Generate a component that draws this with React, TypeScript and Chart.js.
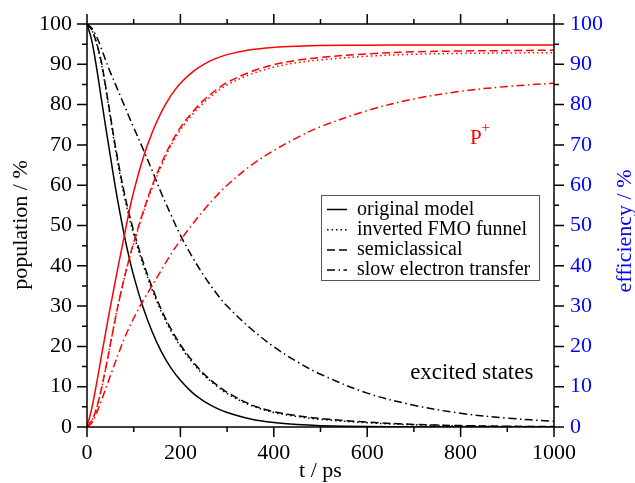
import React, { useEffect, useRef } from 'react';
import { Chart, registerables } from 'chart.js';

Chart.register(...registerables);

// time grid (ps)
const times = [0, 10, 20, 30, 40, 50, 60, 70, 80, 90, 100, 120, 140, 160, 180, 200, 225, 250, 275, 300, 350, 400, 450, 500, 600, 700, 800, 900, 1000];

// excited-state populations (%)
const excOriginal = [100, 96, 89.5, 82, 74.5, 67.2, 60, 53.5, 47.5, 42.2, 37.5, 29.7, 23.5, 18.5, 14.6, 11.6, 8.6, 6.4, 4.8, 3.6, 2.0, 1.1, 0.6, 0.34, 0.1, 0.03, 0, 0, 0];
const excInverted = [100, 98.6, 95.3, 90.5, 84, 76.7, 69.5, 63, 57.2, 52.2, 47.8, 40.3, 33.9, 28.4, 23.8, 20, 16.1, 12.9, 10.4, 8.3, 5.4, 3.6, 2.6, 1.9, 1.05, 0.55, 0.28, 0.14, 0.07];
const excSemiclassical = [100, 98.6, 95.5, 91, 84.5, 77.3, 70.2, 63.8, 58, 53, 48.6, 41, 34.5, 28.9, 24.3, 20.4, 16.5, 13.2, 10.7, 8.6, 5.6, 3.8, 2.8, 2.1, 1.2, 0.65, 0.35, 0.18, 0.1];
const excSlowET = [100, 99, 97, 94.2, 91, 88, 85.3, 82.5, 79.8, 77, 74.3, 69, 63.5, 57.8, 52.6, 47.6, 42.3, 37.6, 33.5, 30, 24.5, 19.9, 16.2, 13.1, 8.4, 5.4, 3.4, 2.2, 1.4];

// P+ populations (%)
const pOriginal = [0, 4.5, 10.5, 17, 23.5, 29.8, 35.8, 41.8, 47.5, 53.3, 58.4, 66.7, 73.2, 78.3, 82.3, 85.3, 88, 90, 91.4, 92.4, 93.6, 94.2, 94.5, 94.65, 94.75, 94.8, 94.8, 94.8, 94.8];
const pInverted = [0, 1.5, 4.5, 9, 14.5, 20.5, 26.5, 32, 37, 41.5, 45.5, 53, 59.5, 65, 69.9, 73.7, 77.4, 80.5, 82.9, 84.9, 87.5, 89.3, 90.4, 91.1, 92, 92.5, 92.7, 92.8, 92.9];
const pSemiclassical = [0, 1.5, 4.5, 9, 14.5, 20.5, 26.5, 32, 37, 41.6, 45.8, 53.3, 60, 65.6, 70.4, 74.3, 78, 81.1, 83.5, 85.5, 88.1, 89.9, 91, 91.7, 92.6, 93.1, 93.3, 93.4, 93.5];
const pSlowET = [0, 1, 3.3, 6.3, 9.5, 12.7, 15.9, 19, 22, 24.6, 27, 31.3, 35.2, 39.1, 42.9, 46.3, 50.2, 53.8, 57.1, 60, 64.8, 68.6, 71.8, 74.5, 78.5, 81.4, 83.3, 84.5, 85.3];

// axes ticks
const xMajor = [0, 200, 400, 600, 800, 1000];
const xMinor = [100, 300, 500, 700, 900];
const yMajor = [0, 10, 20, 30, 40, 50, 60, 70, 80, 90, 100];
const yMinor = [5, 15, 25, 35, 45, 55, 65, 75, 85, 95];

const legendLabels = ['original model', 'inverted FMO funnel', 'semiclassical', 'slow electron transfer'];

const SERIF = "'Liberation Serif', 'Times New Roman', serif";
const dashes: number[][] = [[], [1.5, 3], [8, 4], [8, 3.5, 1.5, 3.5]];

function toXY(vals: number[]) {
  return times.map((t, i) => ({ x: t, y: vals[i] }));
}

const decorPlugin = {
  id: 'decor',
  afterDraw(chart: any) {
    const { ctx, chartArea: a, scales } = chart;
    const sx = scales.x, sy = scales.y, sy2 = scales.y2;
    ctx.save();
    ctx.strokeStyle = '#000';
    ctx.lineWidth = 1.5;
    ctx.setLineDash([]);
    ctx.beginPath();
    const xt = (v: number, L: number) => {
      const p = sx.getPixelForValue(v);
      ctx.moveTo(p, a.bottom); ctx.lineTo(p, a.bottom + L);
      ctx.moveTo(p, a.top); ctx.lineTo(p, a.top - L);
    };
    xMajor.forEach((v) => xt(v, 10));
    xMinor.forEach((v) => xt(v, 5));
    const yt = (v: number, L: number) => {
      const p = sy.getPixelForValue(v);
      ctx.moveTo(a.left, p); ctx.lineTo(a.left - L, p);
      const q = sy2.getPixelForValue(v);
      ctx.moveTo(a.right, q); ctx.lineTo(a.right + L, q);
    };
    yMajor.forEach((v) => yt(v, 10));
    yMinor.forEach((v) => yt(v, 5));
    ctx.stroke();
    ctx.strokeRect(a.left, a.top, a.right - a.left, a.bottom - a.top);

    // axis titles
    ctx.fillStyle = '#000';
    ctx.font = `22px ${SERIF}`;
    ctx.textAlign = 'center';
    ctx.textBaseline = 'alphabetic';
    ctx.fillText('t / ps', (a.left + a.right) / 2, 477);
    ctx.save();
    ctx.translate(27, 225);
    ctx.rotate(-Math.PI / 2);
    ctx.fillText('population / %', 0, 0);
    ctx.restore();
    ctx.save();
    ctx.fillStyle = '#0000ff';
    ctx.translate(631, 231);
    ctx.rotate(-Math.PI / 2);
    ctx.fillText('efficiency / %', 0, 0);
    ctx.restore();

    // annotations
    ctx.textAlign = 'left';
    ctx.fillStyle = '#000';
    ctx.font = `23px ${SERIF}`;
    ctx.fillText('excited states', sx.getPixelForValue(692), sy.getPixelForValue(12));
    ctx.fillStyle = '#ff0000';
    ctx.font = `21px ${SERIF}`;
    const px = sx.getPixelForValue(820), py = sy.getPixelForValue(70.2);
    ctx.fillText('P', px, py);
    ctx.font = `15px ${SERIF}`;
    ctx.fillText('+', px + 11.5, py - 12);

    // legend
    const bx = 321.5, by = 195.5, bw = 218, bh = 85;
    ctx.strokeStyle = '#555';
    ctx.lineWidth = 1;
    ctx.strokeRect(bx, by, bw, bh);
    ctx.font = `20px ${SERIF}`;
    ctx.fillStyle = '#000';
    ctx.strokeStyle = '#000';
    ctx.lineWidth = 1.5;
    legendLabels.forEach((lab, i) => {
      const cy = 209.5 + i * 20.2;
      ctx.setLineDash(dashes[i]);
      ctx.beginPath();
      ctx.moveTo(327, cy);
      ctx.lineTo(347, cy);
      ctx.stroke();
      ctx.setLineDash([]);
      ctx.fillText(lab, 357, cy + 5);
    });
    ctx.restore();
  },
};

export default function App() {
  const ref = useRef<HTMLCanvasElement>(null);
  useEffect(() => {
    if (!ref.current) return;
    const font = { family: SERIF, size: 22 };
    const mk = (label: string, vals: number[], color: string, dash: number[]) => ({
      label,
      data: toXY(vals),
      borderColor: color,
      backgroundColor: color,
      borderWidth: 1.5,
      borderDash: dash,
      borderCapStyle: 'butt' as const,
      pointRadius: 0,
      fill: false,
      tension: 0.35,
      xAxisID: 'x',
      yAxisID: 'y',
    });
    const plain = (v: any) => String(v);
    const chart = new Chart(ref.current, {
      type: 'line',
      data: {
        datasets: [
          mk('P+ slow electron transfer', pSlowET, '#ff0000', dashes[3]),
          mk('P+ semiclassical', pSemiclassical, '#ff0000', dashes[2]),
          mk('P+ inverted FMO funnel', pInverted, '#ff0000', dashes[1]),
          mk('P+ original model', pOriginal, '#ff0000', dashes[0]),
          mk('slow electron transfer', excSlowET, '#000000', dashes[3]),
          mk('semiclassical', excSemiclassical, '#000000', dashes[2]),
          mk('inverted FMO funnel', excInverted, '#000000', dashes[1]),
          mk('original model', excOriginal, '#000000', dashes[0]),
        ],
      },
      options: {
        animation: false,
        responsive: false,
        maintainAspectRatio: false,
        layout: { padding: { top: 24, left: 0, right: 0, bottom: 0 } },
        plugins: { legend: { display: false }, tooltip: { enabled: false } },
        scales: {
          x: {
            type: 'linear',
            position: 'bottom',
            min: 0,
            max: 1000,
            afterBuildTicks: (s: any) => { s.ticks = xMajor.map((v) => ({ value: v })); },
            ticks: { font, color: '#000', padding: 3, maxRotation: 0, autoSkip: false, callback: plain },
            grid: { drawOnChartArea: false, drawTicks: true, tickLength: 10, color: 'rgba(0,0,0,0)' },
            border: { display: false },
            afterFit: (s: any) => { s.height = 56; },
          },
          y: {
            type: 'linear',
            position: 'left',
            min: 0,
            max: 100,
            afterBuildTicks: (s: any) => { s.ticks = yMajor.map((v) => ({ value: v })); },
            ticks: { font, color: '#000', padding: 5, autoSkip: false, callback: plain },
            grid: { drawOnChartArea: false, drawTicks: true, tickLength: 10, color: 'rgba(0,0,0,0)' },
            border: { display: false },
            afterFit: (s: any) => { s.width = 87; },
          },
          y2: {
            type: 'linear',
            position: 'right',
            min: 0,
            max: 100,
            afterBuildTicks: (s: any) => { s.ticks = yMajor.map((v) => ({ value: v })); },
            ticks: { font, color: '#0000ff', padding: 6, autoSkip: false, callback: plain },
            grid: { drawOnChartArea: false, drawTicks: true, tickLength: 10, color: 'rgba(0,0,0,0)' },
            border: { display: false },
            afterFit: (s: any) => { s.width = 81; },
          },
        },
      },
      plugins: [decorPlugin],
    });
    return () => chart.destroy();
  }, []);
  return (
    <div style={{ position: 'fixed', left: 0, top: 0, width: 635, height: 483, background: '#fff' }}>
      <canvas ref={ref} width={635} height={483} style={{ display: 'block' }} />
    </div>
  );
}
